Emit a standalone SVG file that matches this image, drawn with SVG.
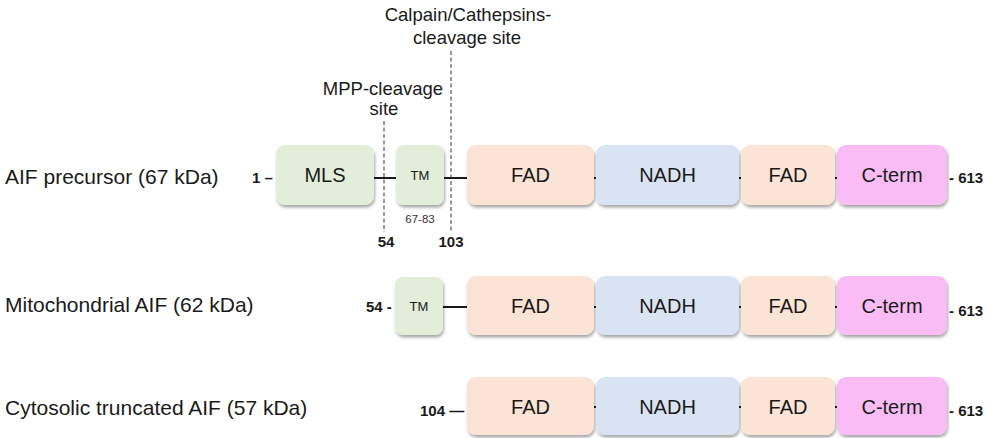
<svg xmlns="http://www.w3.org/2000/svg" width="986" height="438" viewBox="0 0 986 438">
  <defs>
    <filter id="sh" x="-10%" y="-10%" width="125%" height="135%">
      <feDropShadow dx="1" dy="2.5" stdDeviation="1.6" flood-color="#000" flood-opacity="0.35"/>
    </filter>
  </defs>
  <style>
    text { font-family: "Liberation Sans", Arial, sans-serif; fill: #1a1a1a; }
    .lbl { font-size: 21px; }
    .box { font-size: 20px; text-anchor: middle; }
    .tm { font-size: 13px; text-anchor: middle; }
    .num { font-size: 15px; font-weight: bold; }
    .numc { font-size: 15px; font-weight: bold; text-anchor: middle; }
    .site { font-size: 18.5px; text-anchor: middle; }
    .small { font-size: 11.5px; text-anchor: middle; fill: #333; }
    .green { fill: #e2eed9; filter: url(#sh); }
    .peach { fill: #fbe4d5; filter: url(#sh); }
    .blue { fill: #dae3f3; filter: url(#sh); }
    .pink { fill: #f9bcf5; filter: url(#sh); }
    .bb { stroke: #1a1a1a; stroke-width: 2; fill: none; }
    .dash { stroke: #333; stroke-width: 1; stroke-dasharray: 4 2.5; fill: none; }
  </style>

  <g id="connectors">
    <line class="bb" x1="374" y1="178" x2="947" y2="178"/>
    <line class="bb" x1="443" y1="307" x2="947" y2="307"/>
    <line class="bb" x1="594" y1="407" x2="947" y2="407"/>
    <line class="dash" x1="384" y1="121" x2="384" y2="232"/>
    <line class="dash" x1="451" y1="51" x2="451" y2="232"/>
  </g>

  <g id="labels">
    <text class="lbl" x="5" y="184">AIF precursor (67 kDa)</text>
    <text class="lbl" x="5" y="312">Mitochondrial AIF (62 kDa)</text>
    <text class="lbl" x="5" y="415">Cytosolic truncated AIF (57 kDa)</text>
    <text class="site" x="468" y="21">Calpain/Cathepsins-</text>
    <text class="site" x="467" y="44">cleavage site</text>
    <text class="site" x="383" y="95">MPP-cleavage</text>
    <text class="site" x="384" y="115">site</text>
    <text class="num" x="252" y="183">1 –</text>
    <text class="numc" x="386" y="247">54</text>
    <text class="numc" x="451" y="247">103</text>
    <text class="small" x="420" y="223">67-83</text>
    <text class="num" x="366" y="312">54 -</text>
    <text class="num" x="420" y="416">104 —</text>
    <text class="num" x="949" y="183">- 613</text>
    <text class="num" x="949" y="316">- 613</text>
    <text class="num" x="949" y="416">- 613</text>
  </g>

  <!-- Row 1: AIF precursor -->
  <g id="r1-mls"><rect class="green" x="276" y="145" width="98" height="60" rx="9"/><text class="box" x="325" y="182">MLS</text></g>
  <g id="r1-tm"><rect class="green" x="396" y="145" width="48" height="60" rx="8"/><text class="tm" x="420" y="180">TM</text></g>
  <g id="r1-fad1"><rect class="peach" x="467" y="145" width="127" height="60" rx="9"/><text class="box" x="530.5" y="182">FAD</text></g>
  <g id="r1-nadh"><rect class="blue" x="596" y="145" width="143" height="60" rx="9"/><text class="box" x="667.5" y="182">NADH</text></g>
  <g id="r1-fad2"><rect class="peach" x="741" y="145" width="94" height="60" rx="9"/><text class="box" x="788" y="182">FAD</text></g>
  <g id="r1-cterm"><rect class="pink" x="837" y="145" width="110" height="60" rx="9"/><text class="box" x="892" y="182">C-term</text></g>

  <!-- Row 2: Mitochondrial AIF -->
  <g id="r2-tm"><rect class="green" x="395" y="277" width="48" height="58" rx="8"/><text class="tm" x="419" y="311">TM</text></g>
  <g id="r2-fad1"><rect class="peach" x="467" y="276" width="127" height="59" rx="9"/><text class="box" x="530.5" y="313">FAD</text></g>
  <g id="r2-nadh"><rect class="blue" x="596" y="276" width="143" height="59" rx="9"/><text class="box" x="667.5" y="313">NADH</text></g>
  <g id="r2-fad2"><rect class="peach" x="741" y="276" width="94" height="59" rx="9"/><text class="box" x="788" y="313">FAD</text></g>
  <g id="r2-cterm"><rect class="pink" x="837" y="276" width="110" height="59" rx="9"/><text class="box" x="892" y="313">C-term</text></g>

  <!-- Row 3: Cytosolic truncated AIF -->
  <g id="r3-fad1"><rect class="peach" x="467" y="377" width="127" height="58" rx="9"/><text class="box" x="530.5" y="414">FAD</text></g>
  <g id="r3-nadh"><rect class="blue" x="596" y="377" width="143" height="58" rx="9"/><text class="box" x="667.5" y="414">NADH</text></g>
  <g id="r3-fad2"><rect class="peach" x="741" y="377" width="94" height="58" rx="9"/><text class="box" x="788" y="414">FAD</text></g>
  <g id="r3-cterm"><rect class="pink" x="837" y="377" width="110" height="58" rx="9"/><text class="box" x="892" y="414">C-term</text></g>
</svg>
